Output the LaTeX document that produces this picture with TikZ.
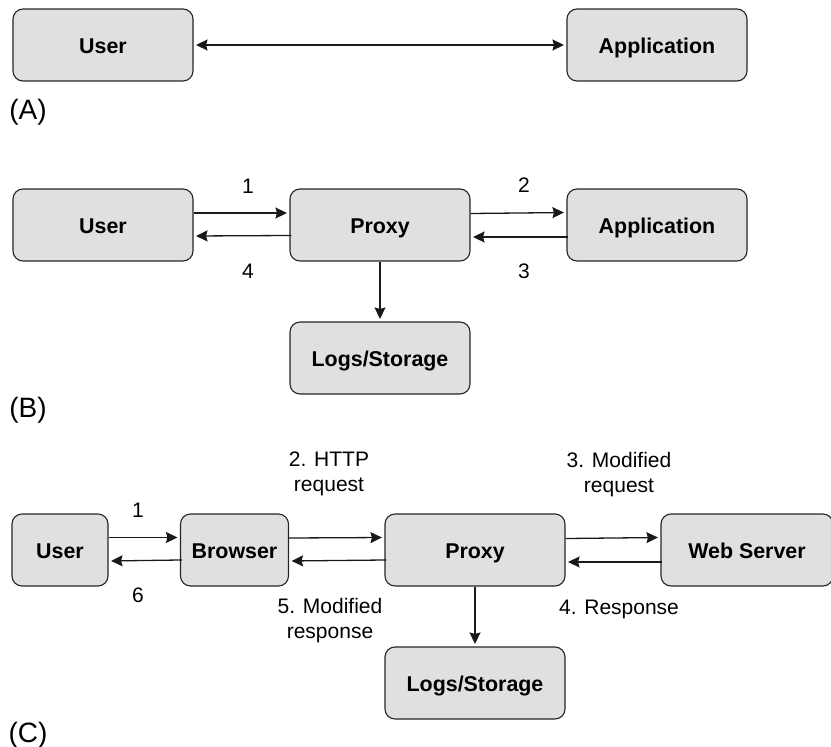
\documentclass[tikz,border=0pt]{standalone}
\usepackage{fontspec}
\setmainfont{Liberation Sans}
\usetikzlibrary{arrows.meta}
\definecolor{boxgray}{RGB}{224,224,224}
\tikzset{
 px/.style={x=1pt,y=-1pt},
 boxn/.style={draw=black!85,fill=boxgray,rounded corners=10pt,line width=1.1pt,font=\bfseries\fontsize{21.4}{24}\selectfont,inner sep=0pt,anchor=center,text height=17pt,text depth=0pt},
 lab/.style={font=\fontsize{21}{25}\selectfont,inner sep=0pt,align=center,anchor=center},
 tag/.style={font=\fontsize{28}{32}\selectfont,inner sep=0pt,anchor=center},
 conn/.style={-{Stealth[length=11.5pt,width=11pt,inset=1.5pt]},line width=1.3pt,black!90,shorten >=2.5pt},
 back/.style={conn,shorten <=-2pt},
 both/.style={{Stealth[length=11.5pt,width=11pt,inset=1.5pt]}-{Stealth[length=11.5pt,width=11pt,inset=1.5pt]},line width=1.3pt,black!90,shorten >=2.5pt,shorten <=2.5pt},
}
\begin{document}
\begin{tikzpicture}[px]
\useasboundingbox (0,0) rectangle (831,747);
\node[boxn,minimum width=180pt,minimum height=72pt] (u1) at (103,45) {User};
\node[boxn,minimum width=180pt,minimum height=72pt] (a1) at (657,45) {Application};
\draw[both] (u1.east) -- (a1.west);
\node[tag] (ta) at (28,112) {(A)};
\node[boxn,minimum width=180pt,minimum height=72pt] (u2) at (103,225) {User};
\node[boxn,minimum width=180pt,minimum height=72pt] (p2) at (380,225) {Proxy};
\node[boxn,minimum width=180pt,minimum height=72pt] (a2) at (657,225) {Application};
\node[boxn,minimum width=180pt,minimum height=72pt] (l2) at (380,358) {Logs/Storage};
\draw[conn] (u2.east |- 0,213) -- (p2.west |- 0,213);
\draw[back] (p2.west |- 0,235.5) -- (u2.east |- 0,236);
\draw[conn] (p2.east |- 0,213.5) -- (a2.west |- 0,212.5);
\draw[back] (a2.west |- 0,237) -- (p2.east |- 0,237);
\draw[conn] (p2.south) -- (l2.north);
\node[lab] (n1) at (248,186) {1};
\node[lab] (n2) at (524,185) {2};
\node[lab] (n3) at (524,271) {3};
\node[lab] (n4) at (248,271) {4};
\node[tag] (tb) at (28,410) {(B)};
\node[boxn,minimum width=96pt,minimum height=72pt] (u3) at (60,550) {User};
\node[boxn,minimum width=108pt,minimum height=72pt] (b3) at (234.5,550) {Browser};
\node[boxn,minimum width=180pt,minimum height=72pt] (p3) at (475,550) {Proxy};
\node[boxn,minimum width=172pt,minimum height=72pt] (w3) at (747,550) {Web Server};
\node[boxn,minimum width=180pt,minimum height=72pt] (l3) at (475,683) {Logs/Storage};
\draw[conn] (u3.east |- 0,537.5) -- (b3.west |- 0,537.5);
\draw[back] (b3.west |- 0,560) -- (u3.east |- 0,561);
\draw[conn] (b3.east |- 0,538) -- (p3.west |- 0,537.5);
\draw[back] (p3.west |- 0,560) -- (b3.east |- 0,561);
\draw[conn] (p3.east |- 0,538.5) -- (w3.west |- 0,537.5);
\draw[back] (w3.west |- 0,562) -- (p3.east |- 0,562);
\draw[conn] (p3.south) -- (l3.north);
\node[lab] (c1) at (138,510) {1};
\node[lab] (c6) at (138,595) {6};
\node[lab] (c2) at (329,474) {2. HTTP\\request};
\node[lab] (c3) at (619,475) {3. Modified\\request};
\node[lab] (c5) at (330,621) {5. Modified\\response};
\node[lab] (c4) at (619,609) {4. Response};
\node[tag] (tc) at (28,735) {(C)};
\end{tikzpicture}
\end{document}
